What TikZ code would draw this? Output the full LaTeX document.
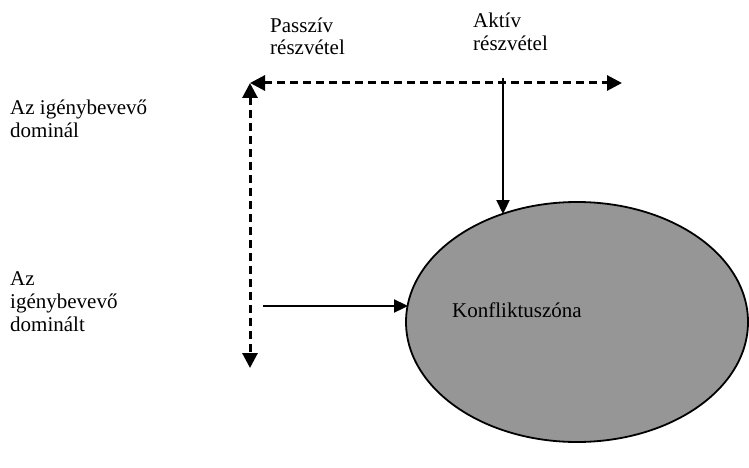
\documentclass[tikz,border=0pt]{standalone}
\usepackage{fontspec}
\setmainfont{Liberation Serif}
\usetikzlibrary{arrows.meta,shapes.geometric}
\definecolor{zonegray}{RGB}{150,150,150}
\tikzset{
  lbl/.style={anchor=base west,inner sep=0pt,font=\fontsize{21}{23}\selectfont},
  dashline/.style={line width=3pt,dash pattern=on 8pt off 5pt,{Triangle[length=15pt,width=15pt]}-{Triangle[length=15pt,width=15pt]}},
  solidarrow/.style={line width=2.3pt,-{Triangle[length=14pt,width=13pt]}},
  zone/.style={ellipse,draw=black,line width=1.8pt,fill=zonegray,minimum width=342pt,minimum height=240pt,inner sep=0pt}
}
\begin{document}
\begin{tikzpicture}[x=1pt,y=-1pt]
\useasboundingbox (0,0) rectangle (749,468);
% ellipse
\node[zone] (konf) at (577,322) {};
\node[lbl] (konftxt) at (452,317) {Konfliktuszóna};
% labels
\node[lbl] (p1) at (270,33) {Passzív};
\node[lbl] (p2) at (270,55) {részvétel};
\node[lbl] (a1) at (473,28) {Aktív};
\node[lbl] (a2) at (473,51) {részvétel};
\node[lbl] (d1) at (10,115) {Az igénybevevő};
\node[lbl] (d2) at (10,137) {dominál};
\node[lbl] (t1) at (10,285) {Az};
\node[lbl] (t2) at (10,308) {igénybevevő};
\node[lbl] (t3) at (10,331) {dominált};
% coordinates
\coordinate (corner) at (250,83);
\coordinate (hend) at (622,83);
\coordinate (vend) at (250,368);
\coordinate (astart) at (503,78);
\coordinate (atip) at (503,214);
\coordinate (hstart) at (263,306);
\coordinate (htip) at (408,306);
% connectors
\draw[solidarrow] (astart) -- (atip);
\draw[solidarrow] (hstart) -- (htip);
\draw[dashline] (corner) -- (hend);
\draw[dashline] (corner) -- (vend);
\end{tikzpicture}
\end{document}
